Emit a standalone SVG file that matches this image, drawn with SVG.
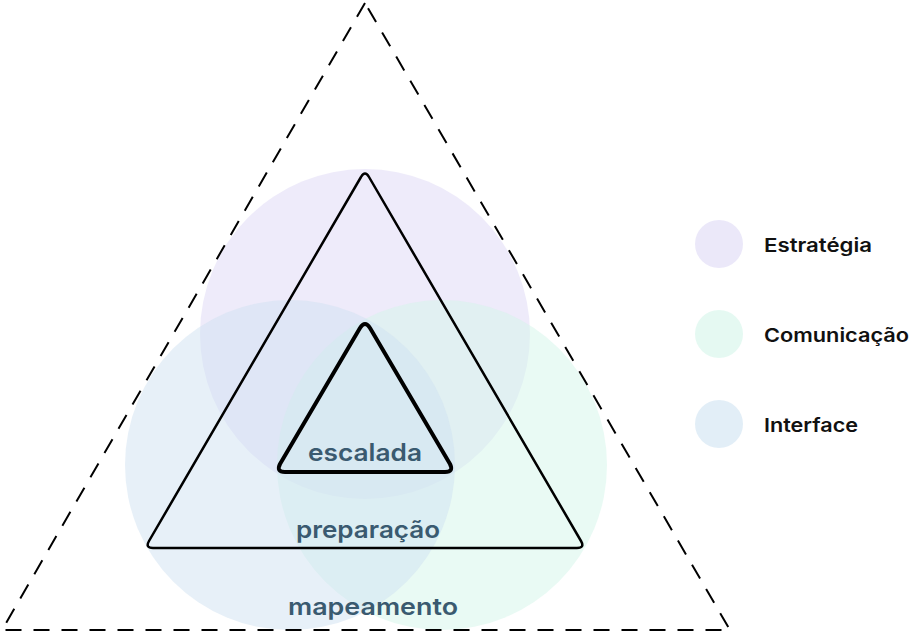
<svg xmlns="http://www.w3.org/2000/svg" width="910" height="634" viewBox="0 0 910 634">
<style>
.c{opacity:0.5}
.p{fill:#DDD8F5}
.g{fill:#D3F5EA}
.b{fill:#CFE2F2}
.lbl{font-family:Inter,"Noto Sans","Liberation Sans",sans-serif;font-weight:600;font-size:24px;fill:#3A5A70}
.leg{font-family:Inter,"Noto Sans","Liberation Sans",sans-serif;font-weight:600;font-size:19px;fill:#111}
.tri{fill:none;stroke:#000;stroke-linejoin:round}
</style>
<rect width="910" height="634" fill="#fff"/>
<g id="circles">
<circle id="estrategia" class="c p" cx="365" cy="334" r="165"/>
<circle id="comunicacao" class="c g" cx="442" cy="465" r="165"/>
<circle id="interface" class="c b" cx="290" cy="465" r="165"/>
</g>
<g id="outer-triangle">
<path d="M365 3 L2 630 L730 630 Z" fill="none" stroke="#000" stroke-width="2" stroke-dasharray="16 12" stroke-linejoin="miter"/>
<text class="lbl" x="288" y="615" textLength="170" lengthAdjust="spacingAndGlyphs">mapeamento</text>
</g>
<g id="middle-triangle">
<path class="tri" stroke-width="2.5" d="M361 177 Q365 170 369 177 L581 541 Q585 548 577 548 L153 548 Q145 548 149 541 Z"/>
<text class="lbl" x="296" y="538" textLength="144" lengthAdjust="spacingAndGlyphs">preparação</text>
</g>
<g id="inner-triangle">
<path class="tri" stroke-width="4" d="M360 328 Q365 320 370 328 L450 464 Q454 472 445 472 L285 472 Q276 472 280 464 Z"/>
<text class="lbl" x="308" y="461" textLength="114" lengthAdjust="spacingAndGlyphs">escalada</text>
</g>
<g id="legend">
<circle class="p" cx="719" cy="244" r="24" opacity="0.6"/>
<text class="leg" x="764" y="252" textLength="108" lengthAdjust="spacingAndGlyphs">Estratégia</text>
<circle class="g" cx="719" cy="334" r="24" opacity="0.6"/>
<text class="leg" x="764" y="342" textLength="145" lengthAdjust="spacingAndGlyphs">Comunicação</text>
<circle class="b" cx="719" cy="424" r="24" opacity="0.6"/>
<text class="leg" x="764" y="432" textLength="94" lengthAdjust="spacingAndGlyphs">Interface</text>
</g>
</svg>
